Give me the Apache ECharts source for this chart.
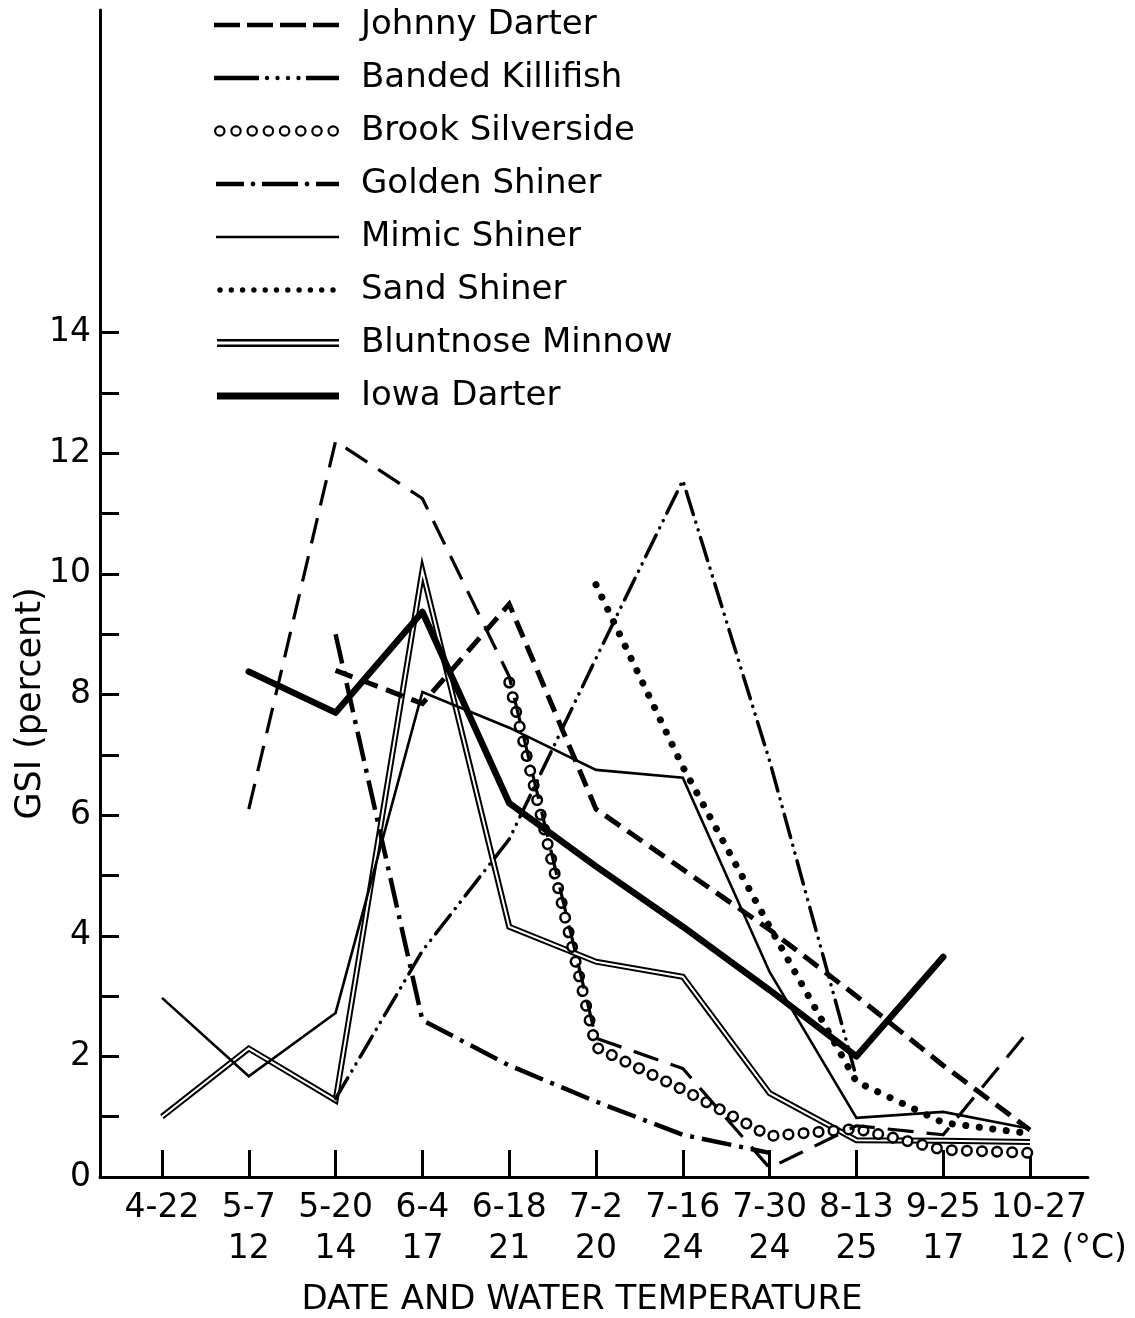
<!DOCTYPE html>
<html><head><meta charset="utf-8">
<script src="https://cdn.jsdelivr.net/npm/echarts@6/dist/echarts.min.js"></script>
<style>html,body{margin:0;padding:0;background:#fff}#c{width:1135px;height:1318px}</style>
</head><body><div id="c"></div>
<script>
// ---------- data ----------
const dates = ['4-22','5-7','5-20','6-4','6-18','7-2','7-16','7-30','8-13','9-25','10-27'];
const temps = ['', '12','14','17','21','20','24','24','25','17','12'];
const tempUnit = '(°C)';
const yLabelValues = [0,2,4,6,8,10,12,14];
const yTickValues = [1,2,3,4,5,6,7,8,9,10,11,12,13,14];

const johnnyDarter    = [null,null,8.4,7.85,9.5,6.1,5.1,4.1,3.0,1.85,0.78];
const unlabeledDashed = [null,6.1,12.2,11.25,8.3,2.3,1.8,0.15,0.85,0.7,2.45];
const bandedKillifish = [null,null,1.3,3.75,5.6,8.6,11.55,6.9,1.65,null,null];
const brookSilverside = [null,null,null,null,8.2,2.15,1.45,0.68,0.8,0.45,0.4];
const goldenShiner    = [null,null,9.0,2.6,1.85,1.25,0.7,0.4,null,null,null];
const mimicShiner     = [2.97,1.67,2.72,8.04,7.45,6.75,6.62,3.4,0.98,1.08,0.8];
const sandShiner      = [null,null,null,null,null,9.82,6.8,4.15,1.58,0.9,0.72];
const bluntnoseMinnow = [1.0,2.13,1.27,10.05,4.15,3.57,3.32,1.39,0.61,0.6,0.58];
const iowaDarter      = [null,8.38,7.7,9.37,6.2,5.15,4.15,3.1,2.0,3.65,null];

const legendNames = ['Johnny Darter','Banded Killifish','Brook Silverside','Golden Shiner',
  'Mimic Shiner','Sand Shiner','Bluntnose Minnow','Iowa Darter'];

// ---------- helpers ----------
const FONT = '"DejaVu Sans", sans-serif';
function pts(arr){ const out=[]; arr.forEach((v,i)=>{ if(v!=null) out.push([i,v]); }); return out; }
function line(name, arr, ls, z){
  return {name, type:'line', xAxisIndex:0, yAxisIndex:0, data: pts(arr), symbol:'none', showSymbol:false, silent:true,
    animation:false, z: z||2, color: ls.color || '#000',
    emphasis:{disabled:true},
    lineStyle: Object.assign({color:'#000', join:'miter', miterLimit:20}, ls)};
}

// legend icons (path) in a W x H box
const W=142, H=20, CY=10;
const anchor = `M0,0 L0,0 M${W},${H} L${W},${H} `;
function rectY(x0,x1,y0,y1){ return `M${x0},${y0} L${x1},${y0} L${x1},${y1} L${x0},${y1} Z `; }
function rect(x0,x1,t){ return rectY(x0,x1,CY-t/2,CY+t/2); }
function circ(cx,r,s){ return `M${cx-r},${CY} A${r},${r} 0 1,${s} ${cx+r},${CY} A${r},${r} 0 1,${s} ${cx-r},${CY} Z `; }
function icon(body){ return 'path://' + anchor + body; }

let ringBody=''; for(let i=0;i<8;i++){ const cx=5.8+i*16.2; ringBody += circ(cx,5.8,0) + circ(cx,3.6,1); }
let sandBody=''; for(let i=0;i<11;i++){ sandBody += circ(6+i*11.3,2.7,0); }
const icons = [
  icon(rect(0,26,4.6)+rect(33,59,4.6)+rect(66,92,4.6)+rect(99,125,4.6)),
  icon(rect(0,45,4.4)+circ(53,2.2,0)+circ(63.5,2.2,0)+circ(74,2.2,0)+circ(84.5,2.2,0)+rect(92,125,4.4)),
  icon(ringBody),
  icon(rect(2,30,4.6)+circ(39,2.4,0)+rect(48,84,4.6)+circ(93,2.4,0)+rect(102,125,4.6)),
  icon(rect(2,125,2.6)),
  icon(sandBody),
  icon(rectY(3,125,6.0,8.5)+rectY(3,125,11.5,14.0)),
  icon(rect(3,125,7))
];

const series = [
  line('Bluntnose Minnow', bluntnoseMinnow, {width:6}),
  line('Bluntnose Minnow inner', bluntnoseMinnow, {width:2, color:'#fff'}),
  line('Brook Silverside', brookSilverside, {width:12, type:[0.1,15], cap:'round'}),
  line('Brook Silverside inner', brookSilverside, {width:7, type:[0.1,15], cap:'round', color:'#fff'}),
  line('Mimic Shiner', mimicShiner, {width:2.6}),
  line('Golden Shiner', goldenShiner, {width:4.5, type:[30,8,4,8], cap:'butt'}),
  line('Banded Killifish', bandedKillifish, {width:3.5, type:[24,8,0.1,8,0.1,8], cap:'round', join:'round'}),
  line('Sand Shiner', sandShiner, {width:7, type:[0.1,13.5], cap:'round', join:'round'}),
  line('Unlabeled dashed', unlabeledDashed, {width:3.2, type:[26,13], cap:'butt', join:'round'}),
  line('Johnny Darter', johnnyDarter, {width:5, type:[18,9], cap:'butt'}),
  line('Iowa Darter', iowaDarter, {width:6.5, cap:'round', join:'round'})
];

const lastIdx = dates.length - 1;
const labelFont = {fontFamily:FONT, fontSize:33, color:'#000', lineHeight:41};
function xLabel(v){
  const i=Math.round(v); const d=dates[i]; const t=temps[i];
  if(!t) return d;
  if(i===lastIdx) return '{d|' + d + '}\n{u|' + t + ' ' + tempUnit + '}';
  return d + '\n' + t;
}
const X_MIN = -0.714, X_MAX = 10.668;

const chart = echarts.init(document.getElementById('c'), null, {renderer:'canvas'});
chart.setOption({
  backgroundColor:'#fff',
  animation:false,
  grid:{left:100, right:47, top:10, bottom:141, containLabel:false, outerBoundsMode:'none'},
  legend:{
    orient:'vertical', left:214, top:8, padding:0,
    itemWidth:W, itemHeight:H, itemGap:19, selectedMode:false,
    itemStyle:{borderWidth:0},
    textStyle:{fontFamily:FONT, fontSize:34, color:'#000', lineHeight:20},
    data: legendNames.map((n,i)=>({name:n, icon:icons[i]}))
  },
  xAxis:[{
    type:'value', min:X_MIN, max:X_MAX, position:'bottom',
    axisLine:{show:true, onZero:false, lineStyle:{color:'#000', width:3}},
    axisTick:{show:true, inside:true, length:27, lineStyle:{color:'#000', width:3},
      customValues: dates.map((d,i)=>i)},
    axisLabel:Object.assign({show:true, showMinLabel:true, hideOverlap:false,
      customValues: dates.slice(0, lastIdx).map((d,i)=>i), margin:11,
      formatter:xLabel}, labelFont),
    splitLine:{show:false},
    name:'DATE AND WATER TEMPERATURE', nameLocation:'middle', nameGap:106, nameMoveOverlap:false,
    nameTextStyle:{fontFamily:FONT, fontSize:34, color:'#000', padding:[0,24,0,0]}
  },{
    type:'value', min:X_MIN, max:X_MAX, position:'bottom', offset:0,
    axisLine:{show:false, onZero:false}, axisTick:{show:false}, splitLine:{show:false},
    axisLabel:Object.assign({show:true, showMaxLabel:true, hideOverlap:false,
      customValues:[lastIdx], margin:11, formatter:xLabel,
      rich:{
        d:Object.assign({padding:[0,0,0,18]}, labelFont),
        u:Object.assign({padding:[0,0,0,76]}, labelFont)
      }}, labelFont)
  }],
  yAxis:{
    type:'value', min:0, max:19.35,
    axisLine:{show:true, onZero:false, lineStyle:{color:'#000', width:3}},
    axisTick:{show:true, inside:true, length:19, lineStyle:{color:'#000', width:3},
      customValues: yTickValues},
    axisLabel:{show:true, customValues: yLabelValues, margin:9,
      fontFamily:FONT, fontSize:33, color:'#000'},
    splitLine:{show:false},
    name:'GSI (percent)', nameLocation:'middle', nameGap:52, nameMoveOverlap:false,
    nameTextStyle:{fontFamily:FONT, fontSize:35, color:'#000', padding:[0,220,0,0]}
  },
  series: series
});
</script>
</body></html>
